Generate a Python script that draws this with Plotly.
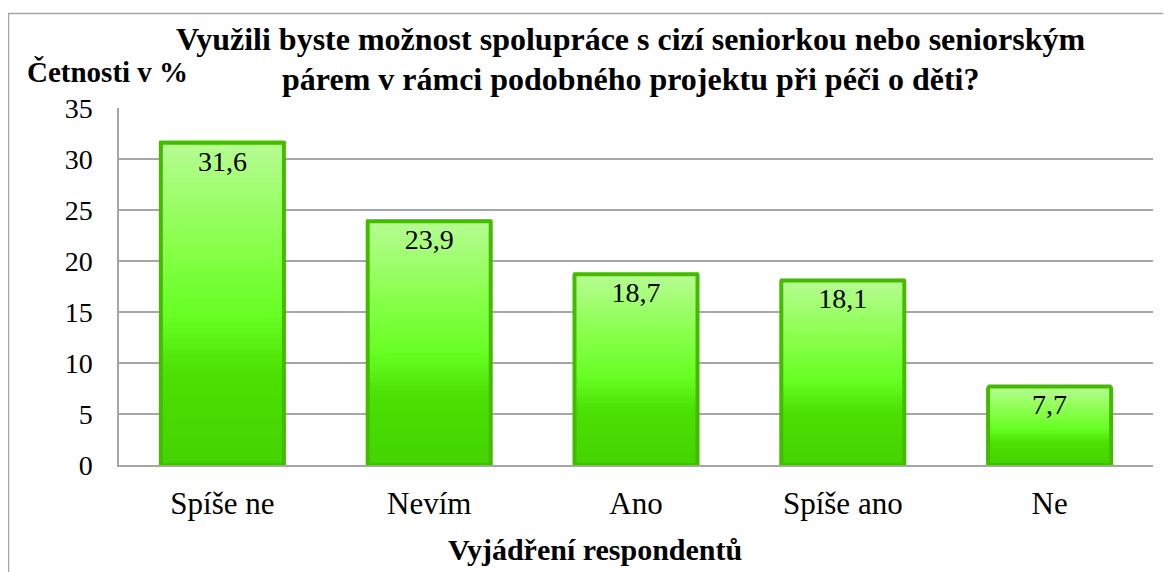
import plotly.graph_objects as go

categories = ["Spíše ne", "Nevím", "Ano", "Spíše ano", "Ne"]
values = [31.6, 23.9, 18.7, 18.1, 7.7]
value_labels = ["31,6", "23,9", "18,7", "18,1", "7,7"]
y_ticks = [0, 5, 10, 15, 20, 25, 30, 35]

title_line1 = "<b>Využili byste možnost spolupráce s cizí seniorkou nebo seniorským</b>"
title_line2 = "<b>párem v rámci podobného projektu při péči o děti?</b>"
y_title = "<b>Četnosti v %</b>"
x_title = "<b>Vyjádření respondentů</b>"

FONT = "Liberation Serif, Times New Roman, serif"

# gradient stops (fraction from top of bar -> rgb)
stops = [(0.0, (184, 252, 149)), (0.3, (140, 255, 80)), (0.55, (102, 255, 34)),
         (0.72, (76, 224, 4)), (1.0, (68, 212, 0))]


def grad(t):
    for (a, ca), (b, cb) in zip(stops[:-1], stops[1:]):
        if a <= t <= b:
            f = (t - a) / (b - a) if b > a else 0
            c = [round(ca[k] + (cb[k] - ca[k]) * f) for k in range(3)]
            return f"rgb({c[0]},{c[1]},{c[2]})"
    c = stops[-1][1]
    return f"rgb({c[0]},{c[1]},{c[2]})"


fig = go.Figure()
N = 60
for i in range(N):
    t0, t1 = i / N, (i + 1) / N
    fig.add_trace(go.Bar(
        x=categories,
        y=[v * (t1 - t0) * 1.5 for v in values],
        base=[v * (1 - t1) for v in values],
        marker=dict(color=grad((t0 + t1) / 2), line=dict(width=0)),
        hoverinfo="skip", showlegend=False,
    ))

fig.add_trace(go.Bar(
    x=categories, y=values,
    marker=dict(color="rgba(0,0,0,0)", line=dict(color="#44bb00", width=4), cornerradius=3),
    text=value_labels, textposition="inside", insidetextanchor="end",
    textfont=dict(family=FONT, size=28, color="black"),
    constraintext="none", textangle=0,
    showlegend=False,
))

# page body adds an 8px offset; the figure is sized to fill the rest of the window
W_FIG, H_FIG = 1163, 564
fig.update_layout(
    width=W_FIG, height=H_FIG,
    margin=dict(l=111, r=18, t=100, b=107, autoexpand=False),
    paper_bgcolor="white", plot_bgcolor="white",
    barmode="overlay", bargap=0.405,
    font=dict(family=FONT, size=28, color="black"),
    showlegend=False,
)

fig.update_yaxes(
    range=[0, 35], tickvals=y_ticks, ticks="", ticklabelstandoff=19,
    showgrid=True, gridcolor="#a6a6a6", gridwidth=1.5,
    showline=True, linecolor="#a6a6a6", linewidth=1.5,
    zeroline=False, tickfont=dict(family=FONT, size=28),
)
fig.update_xaxes(
    ticks="", showline=True, linecolor="#a6a6a6", linewidth=1.5,
    ticklabelstandoff=10, tickfont=dict(family=FONT, size=31),
)


def px(X):
    return (X - 119) / 1034


def py(Y):
    return (465 - Y) / 357


fig.add_annotation(text=title_line1, xref="paper", yref="paper",
                   x=px(630), y=py(39), xanchor="center", yanchor="middle",
                   showarrow=False, font=dict(family=FONT, size=32, color="black"))
fig.add_annotation(text=title_line2, xref="paper", yref="paper",
                   x=px(630), y=py(79), xanchor="center", yanchor="middle",
                   showarrow=False, font=dict(family=FONT, size=32, color="black"))
fig.add_annotation(text=y_title, xref="paper", yref="paper",
                   x=px(25), y=py(72), xanchor="left", yanchor="middle",
                   showarrow=False, font=dict(family=FONT, size=29, color="black"))
fig.add_annotation(text=x_title, xref="paper", yref="paper",
                   x=px(595), y=py(549), xanchor="center", yanchor="middle",
                   showarrow=False, font=dict(family=FONT, size=30, color="black"))

fig.add_shape(type="rect", xref="paper", yref="paper",
              x0=px(8.5), x1=px(1200), y0=py(620), y1=py(13.5),
              line=dict(color="#a6a6a6", width=1.5), layer="below")

fig.write_html("out.html")
